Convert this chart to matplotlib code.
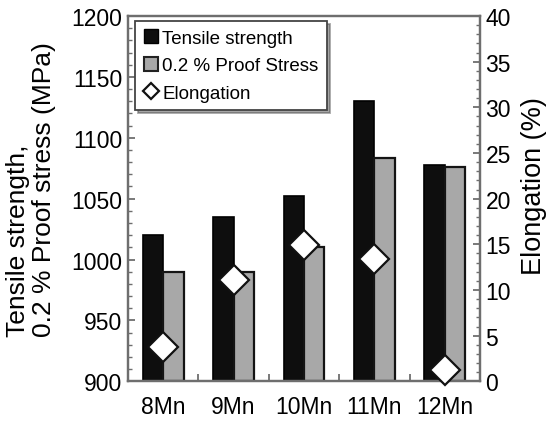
import matplotlib
matplotlib.use("Agg")
import matplotlib.pyplot as plt
from matplotlib.lines import Line2D
from matplotlib.ticker import MultipleLocator
import numpy as np

categories = ["8Mn", "9Mn", "10Mn", "11Mn", "12Mn"]
tensile = [1020, 1035, 1052, 1130, 1078]
proof = [990, 990, 1010, 1083, 1076]
elongation = [3.8, 11.1, 14.9, 13.4, 1.25]

plt.rcParams['font.family'] = ['Liberation Sans', 'DejaVu Sans']
spine_c = '#6e6e6e'

fig = plt.figure(figsize=(5.53, 4.27), dpi=100)
ax = fig.add_axes([128/553, 1-382.3/427, (480-128)/553, (382.3-17)/427])
x = np.arange(len(categories))
w = 0.29
ax.bar(x - w/2, np.array(tensile) - 900, w, bottom=900, color='#0e0e0e',
       edgecolor='#000000', linewidth=1.2, zorder=2)
ax.bar(x + w/2, np.array(proof) - 900, w, bottom=900, color='#a8a8a8',
       edgecolor='#141414', linewidth=1.6, zorder=2)
ax.set_ylim(900, 1200)
ax.set_xlim(-0.5, len(categories) - 0.5)
ax.yaxis.set_major_locator(MultipleLocator(50))
ax.yaxis.set_minor_locator(MultipleLocator(10))
ax.set_xticks(x)
ax.set_xticklabels(categories, fontsize=16.5)
ax.tick_params(axis='x', length=0, pad=10)
ax.set_xticks(np.arange(0.5, len(categories) - 0.5, 1), minor=True)
ax.tick_params(axis='x', which='minor', direction='in', length=5, width=1.3, color=spine_c, top=False)
ax.tick_params(axis='y', which='major', direction='in', length=5, width=1.3, color=spine_c, labelsize=16.5, pad=4)
ax.tick_params(axis='y', which='minor', direction='in', length=3, width=1.0, color=spine_c)
for s in ax.spines.values():
    s.set_color(spine_c)
    s.set_linewidth(1.6)

ax2 = ax.twinx()
ax2.set_ylim(0, 40)
ax2.yaxis.set_major_locator(MultipleLocator(5))
ax2.yaxis.set_minor_locator(MultipleLocator(1))
ax2.tick_params(axis='y', which='major', direction='in', length=5, width=1.3, color=spine_c, labelsize=16.5, pad=4)
ax2.tick_params(axis='y', which='minor', direction='in', length=3, width=1.0, color=spine_c)
ax2.plot(x, elongation, linestyle='none', marker='D', markersize=15,
         markerfacecolor='white', markeredgecolor='#111111', markeredgewidth=1.6,
         clip_on=False, zorder=5)
for s in ax2.spines.values():
    s.set_color(spine_c)
    s.set_linewidth(1.6)

fig.text(31/553, 1-190/427, "Tensile strength,\n0.2 % Proof stress (MPa)",
         rotation=90, ha='center', va='center', multialignment='left',
         fontsize=19, linespacing=1.1)
fig.text(534/553, 1-186.5/427, "Elongation (%)", rotation=90,
         ha='center', va='center', fontsize=19.5)

handles = [
    Line2D([], [], linestyle='none', marker='s', markersize=10, markerfacecolor='#0e0e0e', markeredgecolor='#000000'),
    Line2D([], [], linestyle='none', marker='s', markersize=10, markerfacecolor='#a8a8a8', markeredgecolor='#222222', markeredgewidth=1.5),
    Line2D([], [], linestyle='none', marker='D', markersize=8, markerfacecolor='white', markeredgecolor='#111111', markeredgewidth=1.6),
]
leg = ax2.legend(handles, ["Tensile strength", "0.2 % Proof Stress", "Elongation"],
                 loc='upper left', bbox_to_anchor=(0.02, 0.986), fontsize=13.5,
                 handlelength=0.8, handletextpad=0.2, labelspacing=0.55,
                 borderpad=0.45, borderaxespad=0, fancybox=False, shadow=True,
                 framealpha=1, edgecolor='#444444')
leg.get_frame().set_linewidth(1.3)

fig.savefig("out.png", dpi=100)
